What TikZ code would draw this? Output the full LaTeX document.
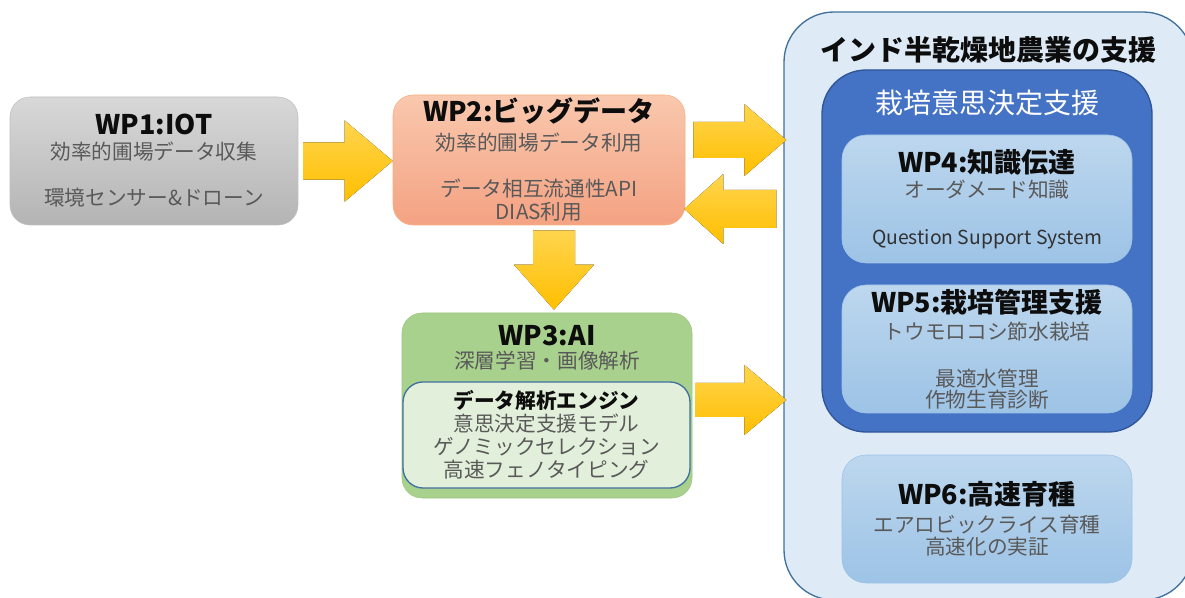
\documentclass[tikz,border=0pt]{standalone}
\usepackage{fontspec}
\setmainfont{Noto Sans CJK JP}
\usetikzlibrary{positioning, calc}
\definecolor{Gold}{HTML}{FFBF00}
\definecolor{GoldLight}{HTML}{FFD54F}
\definecolor{GrayTop}{HTML}{D8D8D8}
\definecolor{GrayBot}{HTML}{B4B4B4}
\definecolor{GrayEdge}{HTML}{BFBFBF}
\definecolor{SalmonTop}{HTML}{F9C8AE}
\definecolor{SalmonBot}{HTML}{F4A282}
\definecolor{SalmonEdge}{HTML}{F4B183}
\definecolor{Leaf}{HTML}{A9D18E}
\definecolor{LeafDark}{HTML}{9CC67F}
\definecolor{LeafLight}{HTML}{E2EFDA}
\definecolor{SkyTop}{HTML}{BDD7EE}
\definecolor{SkyBot}{HTML}{9DC3E6}
\definecolor{Pale}{HTML}{DEEBF7}
\definecolor{Royal}{HTML}{4472C4}
\definecolor{RoyalEdge}{HTML}{2F5597}
\definecolor{Edge}{HTML}{41719C}
\definecolor{Ink}{HTML}{595959}
\definecolor{Dark}{HTML}{0D0D0D}
\tikzset{
    wpbox/.style={rectangle, rounded corners=15pt, align=center, text=Ink,
        font=\fontsize{15.5}{17.25}\selectfont, inner sep=0pt},
    graybox/.style={wpbox, top color=GrayTop, bottom color=GrayBot, draw=GrayEdge},
    salmonbox/.style={wpbox, top color=SalmonTop, bottom color=SalmonBot, draw=SalmonEdge},
    leafbox/.style={wpbox, fill=Leaf, draw=LeafDark},
    enginebox/.style={wpbox, fill=LeafLight, draw=Edge, line width=1pt},
    skybox/.style={wpbox, rounded corners=18pt, top color=SkyTop, bottom color=SkyBot, draw=SkyBot,
        minimum width=217.5pt, minimum height=96pt},
    headtext/.style={font=\fontsize{21}{24}\selectfont\bfseries, text=Dark, inner sep=0pt},
    goldfill/.style={top color=GoldLight, bottom color=Gold},
}
\newcommand{\wpt}[1]{{\fontsize{20.25}{24}\selectfont\bfseries\color{Dark}#1}}
% block arrow: from, tip, shaft half width, head half width, head length
\newcommand{\goldarrow}[5]{%
    \coordinate (hb) at ($(#2)!#5!(#1)$);
    \fill[goldfill] ($(#1)!#3!90:(#2)$) -- ($(hb)!#3!-90:(#1)$) -- ($(hb)!#4!-90:(#1)$)
        -- (#2) -- ($(hb)!#4!90:(#1)$) -- ($(hb)!#3!90:(#1)$) -- ($(#1)!#3!-90:(#2)$) -- cycle;}

\begin{document}
\begin{tikzpicture}[x=0.75pt, y=-0.75pt]
    \clip (0,0) rectangle (1185,598);
    \fill[white] (0,0) rectangle (1185,598);

    % right frame
    \node[rectangle, rounded corners=37.5pt, fill=Pale, draw=Edge, line width=1pt,
        minimum width=306.75pt, minimum height=441pt] (outer) at (988.5,306) {};
    \node[headtext] (outert) at (988,50) {インド半乾燥地農業の支援};
    \node[rectangle, rounded corners=33pt, fill=Royal, draw=RoyalEdge, line width=1pt,
        minimum width=247.5pt, minimum height=271.5pt] (decision) at (987,251) {};
    \node[font=\fontsize{21}{24}\selectfont, text=white, inner sep=0pt] (decisiont) at (987,103) {栽培意思決定支援};

    \node[skybox] (wp4) at (987,199) {\wpt{WP4:知識伝達}\\[1.5pt]
        オーダメード知識\\[18pt]
        {\fontsize{14.5}{17}\selectfont\color{Dark!85}Question Support System}};
    \node[skybox] (wp5) at (987,349) {\wpt{WP5:栽培管理支援}\\[3pt]
        トウモロコシ節水栽培\\[18pt] 最適水管理\\[-1.5pt] 作物生育診断};
    \node[skybox] (wp6) at (987,519) {\wpt{WP6:高速育種}\\[3.75pt]
        エアロビックライス育種\\[-0.75pt] 高速化の実証};

    % left boxes
    \node[graybox, minimum width=216pt, minimum height=96pt] (wp1) at (154,161)
        {\wpt{WP1:IOT}\\[1.5pt] 効率的圃場データ収集\\[17.25pt] 環境センサー\&ドローン};
    \node[salmonbox, minimum width=219pt, minimum height=97.5pt] (wp2) at (539,160)
        {\wpt{WP2:ビッグデータ}\\[4.5pt] 効率的圃場データ利用\\[17.25pt] データ相互流通性API\\ DIAS利用};
    \node[leafbox, minimum width=217.5pt, minimum height=138.75pt] (wp3) at (547,405.5) {};
    \node[wpbox] (wp3t) at (547,348) {\wpt{WP3:AI}\\ 深層学習・画像解析};
    \node[enginebox, minimum width=215.25pt, minimum height=79.5pt] (engine) at (546.5,435)
        {{\bfseries\color{Dark}データ解析エンジン}\\ 意思決定支援モデル\\ ゲノミックセレクション\\ 高速フェノタイピング};

    % arrows
    \coordinate (a1s) at ($(wp1.east)+(5,0)$);
    \coordinate (a1e) at (wp2.west |- a1s);
    \goldarrow{a1s}{a1e}{13.9pt}{30.4pt}{36pt}
    \coordinate (a2s) at ($(wp2.east)+(8,-20)$);
    \coordinate (a2e) at ($(outer.west |- a2s)+(3,0)$);
    \goldarrow{a2s}{a2e}{13.5pt}{27pt}{31.5pt}
    \coordinate (a3e) at ($(wp2.east)+(-1,49)$);
    \coordinate (a3s) at ($(outer.west |- a3e)+(-7,0)$);
    \goldarrow{a3s}{a3e}{14.25pt}{26.25pt}{29.25pt}
    \coordinate (a4s) at ($(wp2.south)+(15,5)$);
    \coordinate (a4e) at ($(a4s |- wp3.north)+(0,-3)$);
    \goldarrow{a4s}{a4e}{15.75pt}{30pt}{33.75pt}
    \coordinate (a5s) at ($(wp3.east)+(3,-5.5)$);
    \coordinate (a5e) at ($(outer.west |- a5s)+(3,0)$);
    \goldarrow{a5s}{a5e}{12.75pt}{26.25pt}{31.5pt}
\end{tikzpicture}
\end{document}
